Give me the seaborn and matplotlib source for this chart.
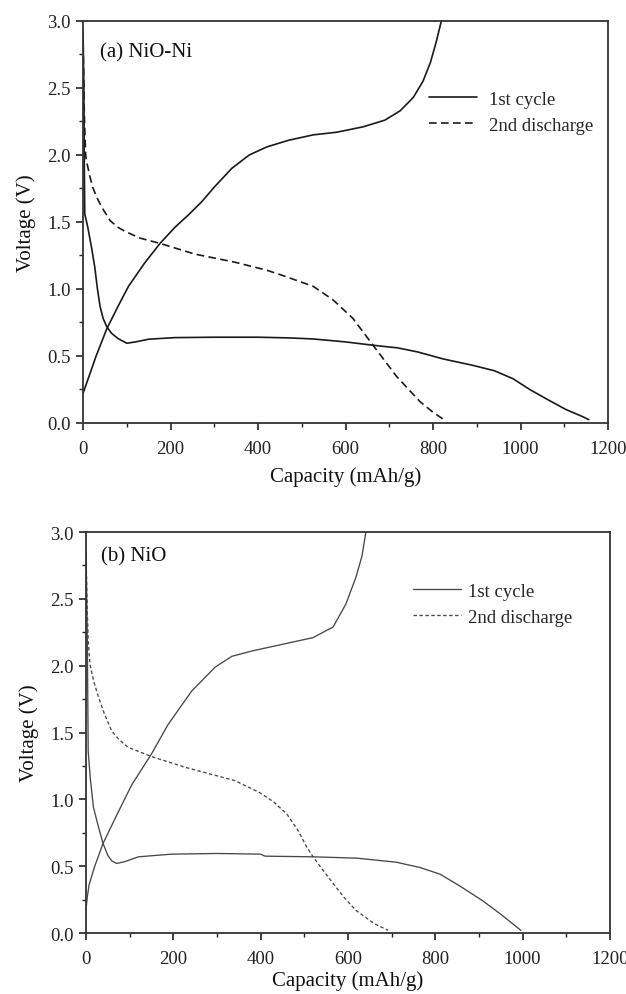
import numpy as np
import pandas as pd
import matplotlib
matplotlib.use("Agg")
import matplotlib.pyplot as plt
import seaborn as sns
from matplotlib.lines import Line2D
from matplotlib.ticker import MultipleLocator, FormatStrFormatter

# ---- data (capacity mAh/g, voltage V) ----
# (a) NiO-Ni
a_dis1_cap = [0, 2, 3, 4, 11, 20, 27, 33, 39, 46, 54, 65, 80, 100, 120, 150, 210, 300, 400, 470, 526,
              600, 663, 720, 765, 823, 891, 940, 983, 1021, 1059, 1104, 1140, 1156]
a_dis1_v = [2.92, 2.5, 1.9, 1.56, 1.46, 1.3, 1.16, 1.0, 0.87, 0.78, 0.72, 0.67, 0.63, 0.595, 0.605, 0.625,
            0.637, 0.64, 0.64, 0.635, 0.627, 0.605, 0.58, 0.56, 0.53, 0.478, 0.43, 0.39, 0.33, 0.25, 0.18,
            0.10, 0.05, 0.025]
a_ch1_cap = [0, 15, 30, 54, 80, 104, 140, 176, 210, 240, 271, 300, 340, 380, 420, 470, 526, 580, 640,
             690, 725, 755, 777, 794, 807, 819]
a_ch1_v = [0.22, 0.36, 0.50, 0.70, 0.87, 1.02, 1.19, 1.34, 1.46, 1.55, 1.65, 1.76, 1.9, 2.0, 2.06, 2.11,
           2.15, 2.17, 2.21, 2.26, 2.33, 2.43, 2.55, 2.69, 2.84, 3.0]
a_dis2_cap = [0, 3, 6, 8, 15, 22, 32, 43, 62, 80, 96, 130, 176, 256, 347, 420, 457, 526, 571, 617, 663,
              716, 770, 800, 827]
a_dis2_v = [2.92, 2.3, 2.0, 1.955, 1.85, 1.76, 1.68, 1.61, 1.51, 1.46, 1.43, 1.38, 1.34, 1.26, 1.2,
            1.14, 1.10, 1.02, 0.92, 0.78, 0.58, 0.35, 0.16, 0.08, 0.02]

# (b) NiO
b_dis1_cap = [0, 3, 5, 10, 17, 28, 39, 50, 59, 70, 90, 120, 196, 300, 400, 410, 520, 620, 710, 765,
              811, 857, 909, 950, 996]
b_dis1_v = [2.85, 2.2, 1.36, 1.15, 0.94, 0.8, 0.67, 0.58, 0.54, 0.52, 0.535, 0.57, 0.59, 0.595, 0.59,
            0.575, 0.57, 0.56, 0.53, 0.49, 0.44, 0.35, 0.24, 0.14, 0.02]
b_ch1_cap = [0, 3, 7, 20, 39, 70, 105, 150, 188, 242, 296, 334, 380, 450, 520, 566, 595, 618, 632, 641]
b_ch1_v = [0.18, 0.27, 0.36, 0.5, 0.67, 0.88, 1.11, 1.34, 1.56, 1.81, 1.99, 2.07, 2.11, 2.16, 2.21,
           2.29, 2.46, 2.66, 2.82, 3.0]
b_dis2_cap = [0, 3, 5, 9, 18, 28, 42, 59, 75, 96, 150, 227, 341, 398, 430, 460, 485, 506, 520, 545,
              566, 590, 618, 660, 692]
b_dis2_v = [2.85, 2.4, 2.19, 2.01, 1.88, 1.77, 1.64, 1.51, 1.45, 1.39, 1.32, 1.24, 1.14, 1.05, 0.98,
            0.89, 0.77, 0.64, 0.57, 0.46, 0.37, 0.27, 0.17, 0.07, 0.02]

sns.set_theme(style="white")
plt.rcParams["font.family"] = ["Liberation Serif", "DejaVu Serif"]

fig = plt.figure(figsize=(6.26, 9.95), dpi=100)
ax_a = fig.add_axes([0.1326, 0.5739, 0.8387, 0.404])
ax_b = fig.add_axes([0.1374, 0.0613, 0.837, 0.403])

panels = [
    (ax_a, "(a) NiO-Ni", [(a_dis1_cap, a_dis1_v), (a_ch1_cap, a_ch1_v)], (a_dis2_cap, a_dis2_v),
     "#1a1a1a", 1.2, (0, (4.6, 2.6)), (0.644, 0.846), 0.64, (0.032, 0.923), 7),
    (ax_b, "(b) NiO", [(b_dis1_cap, b_dis1_v), (b_ch1_cap, b_ch1_v)], (b_dis2_cap, b_dis2_v),
     "#474747", 0.95, (0, (2.6, 1.9)), (0.609, 0.893), 0.37, (0.029, 0.94), 2.5),
]

for ax, label, first, second, color, lw, dash, legpos, tpad, labpos, xlpad in panels:
    for cap, v in first:
        sns.lineplot(x=cap, y=v, ax=ax, sort=False, estimator=None, color=color, linewidth=lw)
    sns.lineplot(x=second[0], y=second[1], ax=ax, sort=False, estimator=None,
                 color=color, linewidth=lw, linestyle=dash)

    ax.set_xlim(0, 1200)
    ax.set_ylim(0, 3.0)
    ax.xaxis.set_major_locator(MultipleLocator(200))
    ax.xaxis.set_minor_locator(MultipleLocator(100))
    ax.yaxis.set_major_locator(MultipleLocator(0.5))
    ax.yaxis.set_minor_locator(MultipleLocator(0.25))
    ax.yaxis.set_major_formatter(FormatStrFormatter("%.1f"))
    ax.tick_params(which="major", direction="out", length=5, width=1.2, labelsize=13.5,
                   bottom=True, left=True, top=False, right=False, color="#222222", pad=4,
                   labelcolor="#222222")
    ax.tick_params(axis="x", which="major", pad=7)
    ax.tick_params(which="minor", direction="out", length=3, width=1.0,
                   bottom=True, left=True, top=False, right=False, color="#222222")
    for sp in ax.spines.values():
        sp.set_linewidth(1.3)
        sp.set_color("#333333")
    ax.set_xlabel("Capacity (mAh/g)", fontsize=15, labelpad=xlpad, color="#111111")
    ax.set_ylabel("Voltage (V)", fontsize=15, labelpad=8, color="#111111")
    ax.text(labpos[0], labpos[1], label, transform=ax.transAxes, fontsize=15, va="center",
            ha="left", color="#111111")

    handles = [Line2D([0], [0], color=color, lw=lw),
               Line2D([0], [0], color=color, lw=lw, linestyle=dash)]
    ax.legend(handles, ["1st cycle", "2nd discharge"], loc="upper left", bbox_to_anchor=legpos,
              frameon=False, fontsize=13.5, handlelength=2.56, handletextpad=tpad,
              labelspacing=0.5, borderaxespad=0)

fig.savefig("out.png", dpi=100)
